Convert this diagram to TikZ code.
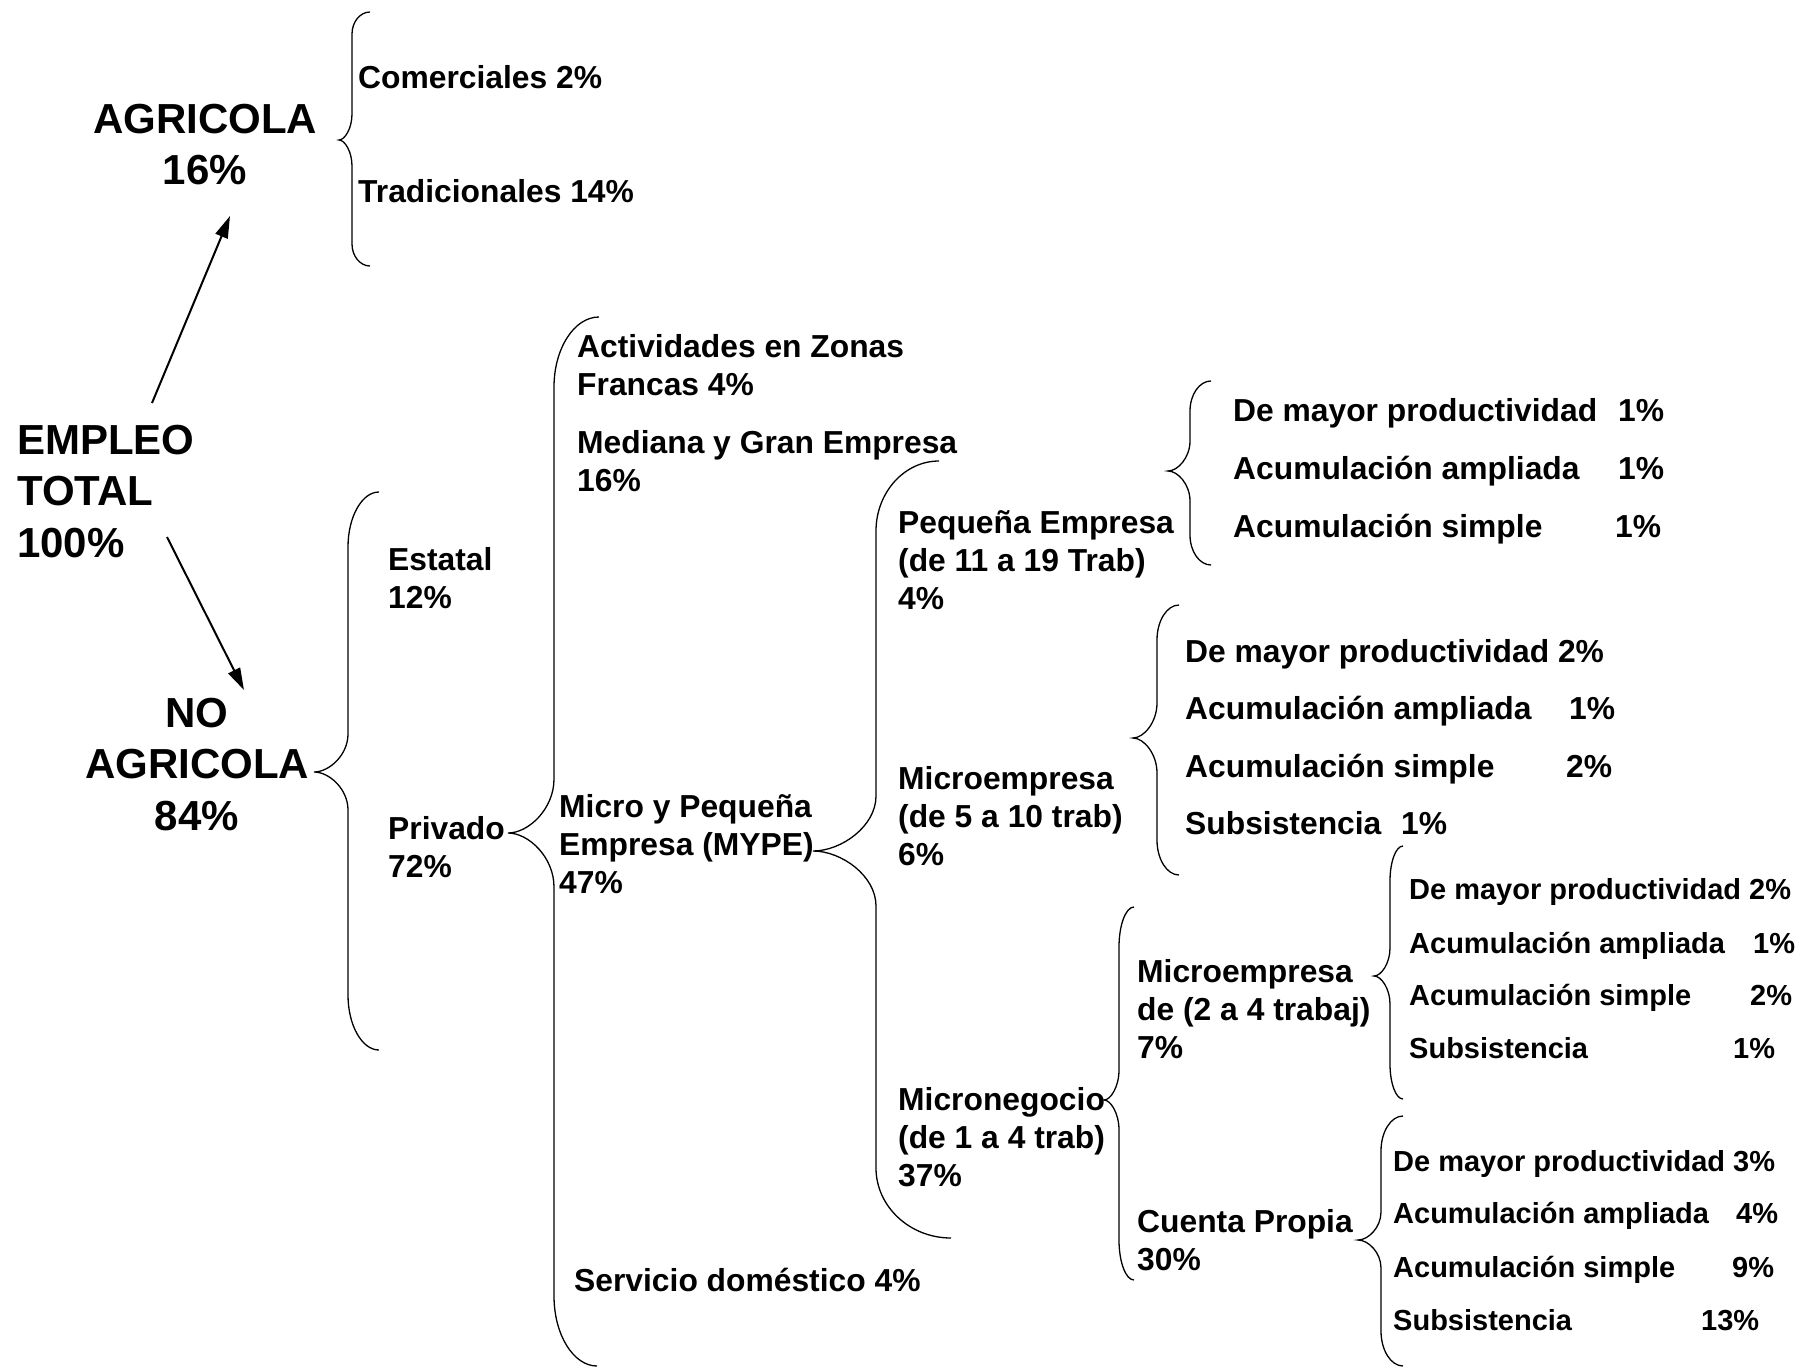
\documentclass[tikz,border=0pt]{standalone}
\usepackage{fontspec}
\setmainfont{Liberation Sans}
\usetikzlibrary{arrows.meta}
\newcommand{\curlyb}[9]{% #1 xtip #2 ytip #3 xv #4 xetop #5 xebot #6 ytop #7 ybot #8 rc #9 rt
\draw[bracestyle] (#4,#6) .. controls ({#3+0.45*(#4-#3)},#6) and (#3,{#6+0.45*#8}) .. (#3,{#6+#8})
 -- (#3,{#2-#9}) .. controls (#3,{#2-0.45*#9}) and ({#1+0.45*(#3-#1)},#2) .. (#1,#2)
 .. controls ({#1+0.45*(#3-#1)},#2) and (#3,{#2+0.45*#9}) .. (#3,{#2+#9})
 -- (#3,{#7-#8}) .. controls (#3,{#7-0.45*#8}) and ({#3+0.45*(#5-#3)},#7) .. (#5,#7);}
\begin{document}
\begin{tikzpicture}[x=1pt,y=-1pt,
  bracestyle/.style={line width=1.3pt,black},
  arr/.style={line width=2pt,-{Triangle[length=22pt,width=13pt]}},
  txt/.style={font=\fontsize{31.8}{38.3}\selectfont\bfseries,anchor=base west,align=left,inner sep=0pt},
  sml/.style={font=\fontsize{29}{35}\selectfont\bfseries,anchor=base west,inner sep=0pt},
  big/.style={font=\fontsize{42}{51.7}\selectfont\bfseries,inner sep=0pt}]
\useasboundingbox (0,0) rectangle (1800,1368);
\fill[white] (0,0) rectangle (1800,1368);

% big labels (base = baseline of last line)
\node[big,anchor=base,align=center] (agr) at (205,184.7) {AGRICOLA\\16\%};
\node[big,anchor=base west,align=left] (emp) at (17,557.4) {EMPLEO\\TOTAL\\100\%};
\node[big,anchor=base,align=center] (noa) at (197,830.4) {NO\\AGRICOLA\\84\%};

% arrows
\coordinate (a1s) at (152,403);
\coordinate (a1e) at (230,216);
\coordinate (a2s) at (167,537);
\coordinate (a2e) at (244,690);
\draw[arr] (a1s) -- (a1e);
\draw[arr] (a2s) -- (a2e);

% braces
\curlyb{339}{140}{352}{370}{370}{12}{266}{22}{26}
\curlyb{314}{772}{348}{379}{379}{492}{1050}{55}{38}
\curlyb{508}{833}{554}{599}{597}{317}{1366}{70}{54}
\curlyb{813}{851}{876}{939}{951}{461}{1238}{70}{55}
\curlyb{1168}{471}{1190}{1211}{1211}{381}{565}{30}{30}
\curlyb{1133}{738}{1157}{1179}{1179}{605}{875}{35}{35}
\curlyb{1104}{1100}{1119}{1134}{1134}{907}{1280}{40}{30}
\curlyb{1374}{976}{1390}{1403}{1403}{846}{1099}{35}{28}
\curlyb{1358}{1240}{1381}{1403}{1403}{1116}{1366}{35}{28}

% level texts
\node[txt] (com) at (358,88) {Comerciales 2\%};
\node[txt] (tra) at (358,202) {Tradicionales 14\%};
\node[txt] (est) at (388,608.3) {Estatal\\12\%};
\node[txt] (pri) at (388,877.3) {Privado\\72\%};
\node[txt] (act) at (577,395.3) {Actividades en Zonas\\Francas 4\%};
\node[txt] (med) at (577,491.3) {Mediana y Gran Empresa\\16\%};
\node[txt] (mype) at (559,893.6) {Micro y Pequeña\\Empresa (MYPE)\\47\%};
\node[txt] (ser) at (574,1291) {Servicio doméstico 4\%};
\node[txt] (peq) at (898,609.6) {Pequeña Empresa\\(de 11 a 19 Trab)\\4\%};
\node[txt] (mic1) at (898,865.6) {Microempresa\\(de 5 a 10 trab)\\6\%};
\node[txt] (mng) at (898,1186.6) {Micronegocio\\(de 1 a 4 trab)\\37\%};
\node[txt] (mic2) at (1137,1058.6) {Microempresa\\de (2 a 4 trabaj)\\7\%};
\node[txt] (cta) at (1137,1270.3) {Cuenta Propia\\30\%};

% list for Pequeña Empresa
\node[txt] (p1) at (1233,421) {\makebox[385pt][l]{De mayor productividad}1\%};
\node[txt] (p2) at (1233,479) {\makebox[385pt][l]{Acumulación ampliada}1\%};
\node[txt] (p3) at (1233,537) {\makebox[382pt][l]{Acumulación simple}1\%};

% list for Microempresa 5-10
\node[txt] (m1) at (1185,662) {De mayor productividad 2\%};
\node[txt] (m2) at (1185,719) {\makebox[384pt][l]{Acumulación ampliada}1\%};
\node[txt] (m3) at (1185,777) {\makebox[381pt][l]{Acumulación simple}2\%};
\node[txt] (m4) at (1185,834) {\makebox[216pt][l]{Subsistencia}1\%};

% list for Microempresa 2-4
\node[sml] (n1) at (1409,899) {De mayor productividad 2\%};
\node[sml] (n2) at (1409,953) {\makebox[344pt][l]{Acumulación ampliada}1\%};
\node[sml] (n3) at (1409,1005) {\makebox[341pt][l]{Acumulación simple}2\%};
\node[sml] (n4) at (1409,1058) {\makebox[324pt][l]{Subsistencia}1\%};

% list for Cuenta Propia
\node[sml] (c1) at (1393,1171) {De mayor productividad 3\%};
\node[sml] (c2) at (1393,1223) {\makebox[343pt][l]{Acumulación ampliada}4\%};
\node[sml] (c3) at (1393,1277) {\makebox[339pt][l]{Acumulación simple}9\%};
\node[sml] (c4) at (1393,1330) {\makebox[308pt][l]{Subsistencia}13\%};
\end{tikzpicture}
\end{document}
